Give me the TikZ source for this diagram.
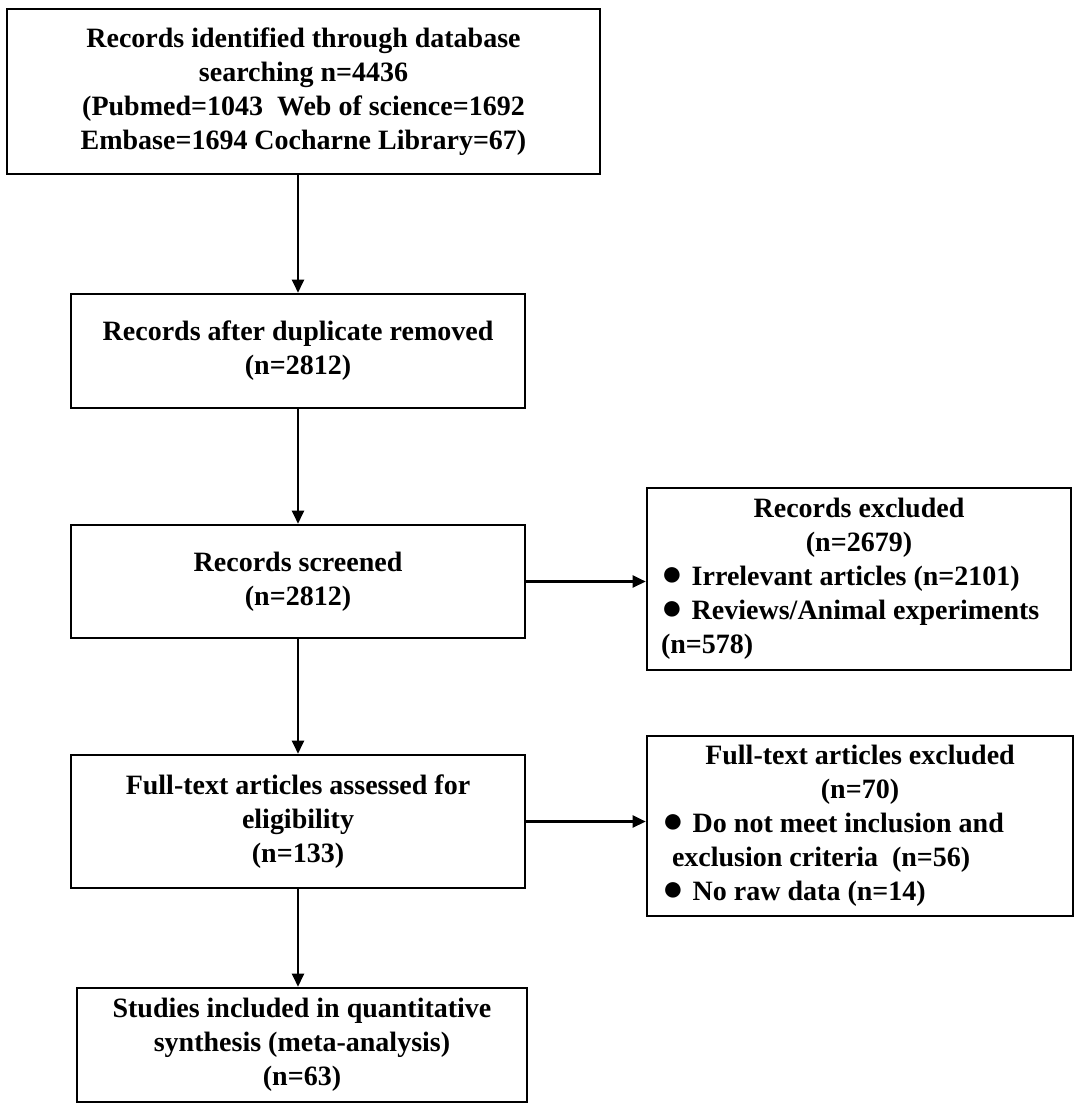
\documentclass[tikz,border=0pt]{standalone}
\usepackage{fontspec}
\setmainfont{Liberation Serif}
\usepackage{tikz}
\usetikzlibrary{positioning,arrows.meta}

\newcommand{\bigdot}{\raisebox{0pt}[0pt][0pt]{\fontsize{36}{34}\selectfont ●}\hspace{9pt}}

\begin{document}
\begin{tikzpicture}[x=1pt, y=-1pt, >={Triangle[length=13pt,width=12pt]},
  boxnode/.style={draw, line width=2.6pt, inner sep=0pt, align=center,
    font=\bfseries\fontsize{28}{34}\selectfont},
  sidenode/.style={draw, line width=2.6pt, inner sep=0pt, align=flush left, text width=396pt,
    font=\bfseries\fontsize{28}{34}\selectfont}]
\useasboundingbox (0,0) rectangle (1084,1112);

\node[boxnode, minimum width=593pt, minimum height=165pt] at (303.5, 91.5) (0) {Records identified through database\\searching n=4436\\(Pubmed=1043\ \ Web of science=1692\\Embase=1694 Cocharne Library=67)};
\node[boxnode, minimum width=454pt, minimum height=114pt] at (298.0, 351.0) (1) {Records after duplicate removed\\(n=2812)};
\node[boxnode, minimum width=454pt, minimum height=113pt] at (298.0, 581.5) (2) {Records screened\\(n=2812)};
\node[boxnode, minimum width=454pt, minimum height=133pt] at (298.0, 821.5) (3) {Full-text articles assessed for\\eligibility\\(n=133)};
\node[boxnode, minimum width=450pt, minimum height=114pt] at (302.0, 1045.0) (4) {Studies included in quantitative\\synthesis (meta-analysis)\\(n=63)};
\node[sidenode, minimum width=424pt, minimum height=182pt] at (859.0, 579.0) (5) {\hfill Records excluded\hfill\null\\\hfill(n=2679)\hfill\null\\
  \bigdot Irrelevant articles (n=2101)\\\bigdot Reviews/Animal experiments\\(n=578)};
\node[sidenode, minimum width=426pt, minimum height=180pt] at (860.0, 826.0) (6) {\hfill Full-text articles excluded\hfill\null\\\hfill(n=70)\hfill\null\\
  \bigdot Do not meet inclusion and\\\hspace*{10pt}exclusion criteria\ \ (n=56)\\\bigdot No raw data (n=14)};

\draw[line width=2.4pt, ->] (1.north |- 0.south) -- (1.north);
\draw[line width=2.4pt, ->] (1) -- (2);
\draw[line width=2.4pt, ->] (2) -- (3);
\draw[line width=2.4pt, ->] (3.south) -- (3.south |- 4.north);
\draw[line width=2.4pt, ->] (2.east) -- (2.east -| 5.west);
\draw[line width=2.4pt, ->] (3.east) -- (3.east -| 6.west);

\end{tikzpicture}
\end{document}
